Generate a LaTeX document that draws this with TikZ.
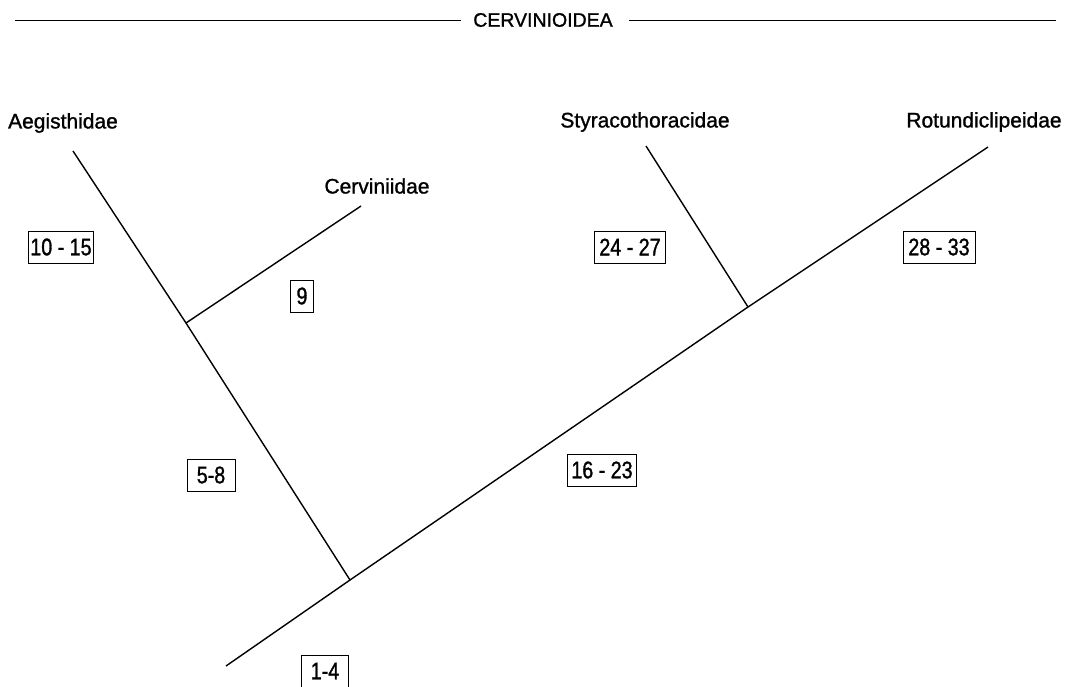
\documentclass[tikz,border=0pt]{standalone}
\usepackage{fontspec}
\setmainfont{Liberation Sans}
\newfontfamily\lettering[FakeStretch=0.82,FakeBold=1.2]{Liberation Sans}
\newfontfamily\labelfont[FakeBold=1.2]{Liberation Sans}
\begin{document}
\begin{tikzpicture}[x=1pt,y=-1pt,
  branch/.style={line width=1.4pt},
  taxon/.style={font=\labelfont\fontsize{21}{24}\selectfont, inner sep=0pt},
  charbox/.style={draw, line width=0.9pt, font=\lettering\fontsize{24}{26}\selectfont, inner sep=2pt, minimum height=32pt}]
\useasboundingbox (0,0) rectangle (1071,686);
% title
\node[font=\labelfont\fontsize{19.5}{22}\selectfont, inner sep=0pt] (title) at (543,20) {CERVINIOIDEA};
\coordinate (tl) at (15,20);
\coordinate (tr) at (1056,20);
\draw[line width=1pt] (tl) -- ([xshift=-12pt]title.west);
\draw[line width=1pt] ([xshift=16pt]title.east) -- (tr);
% tree coordinates
\coordinate (root) at (226,666);
\coordinate (A) at (350,580);
\coordinate (B) at (186,323);
\coordinate (C) at (748,307);
\coordinate (aeg) at (73,151);
\coordinate (cer) at (361,206);
\coordinate (sty) at (646,146);
\coordinate (rot) at (988,147);
\draw[branch] (root) -- (A) -- (C) -- (rot);
\draw[branch] (A) -- (B) -- (aeg);
\draw[branch] (B) -- (cer);
\draw[branch] (C) -- (sty);
% labels
\node[taxon] (laeg) at (63,123) {Aegisthidae};
\node[taxon] (lcer) at (377,186) {Cerviniidae};
\node[taxon] (lsty) at (645,122) {Styracothoracidae};
\node[taxon] (lrot) at (984,122) {Rotundiclipeidae};
% character boxes
\node[charbox, minimum width=63pt] (b1015) at (61,247) {10 - 15};
\node[charbox, minimum width=23pt] (b9) at (302,296) {9};
\node[charbox, minimum width=71pt] (b2427) at (630,247) {24 - 27};
\node[charbox, minimum width=72pt] (b2833) at (939,247) {28 - 33};
\node[charbox, minimum width=48pt] (b58) at (211,475) {5-8};
\node[charbox, minimum width=69pt] (b1623) at (602,470) {16 - 23};
\node[charbox, minimum width=47pt] (b14) at (325,671) {1-4};
\end{tikzpicture}
\end{document}
